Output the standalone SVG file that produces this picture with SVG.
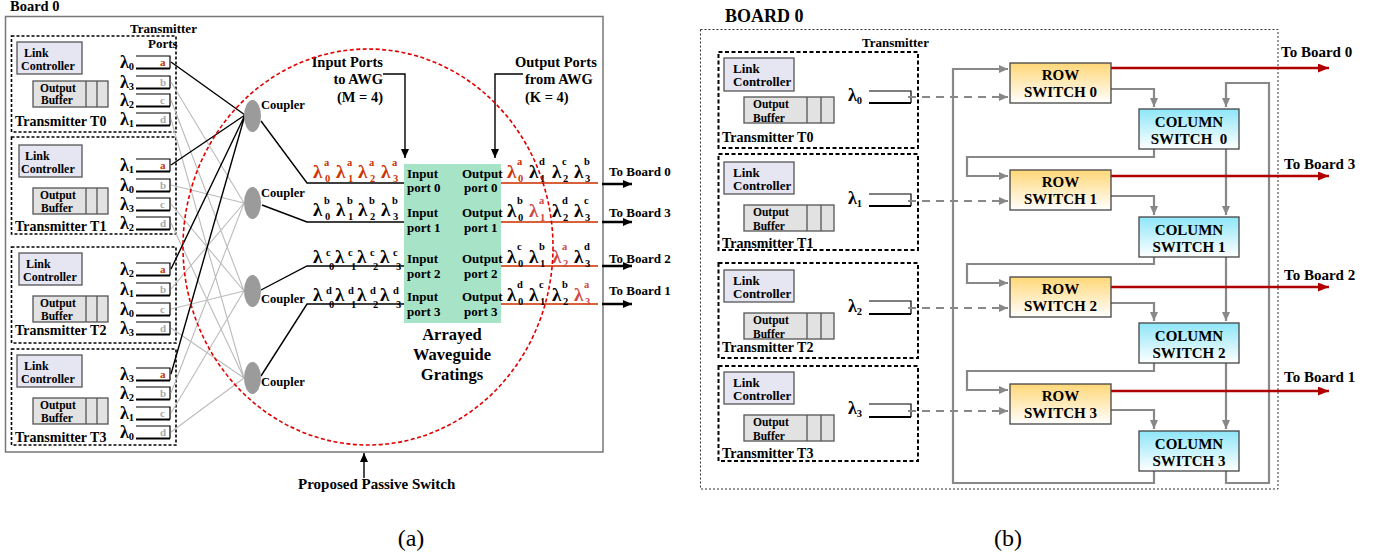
<svg xmlns="http://www.w3.org/2000/svg" width="1373" height="556" viewBox="0 0 1373 556">
<defs>
<style>
text{font-family:"Liberation Serif","Times New Roman",serif;font-weight:bold;fill:#000}
.reg{font-weight:normal}
.tx{fill:none;stroke:#000;stroke-width:1.6;stroke-dasharray:3 2}
.tx2{fill:none;stroke:#000;stroke-width:2;stroke-dasharray:4 2.5}
.lc{fill:#e6e6f3;stroke:#555;stroke-width:1.3}
.ob{fill:#e2e2e2;stroke:#555;stroke-width:1.3}
.dv{stroke:#555;stroke-width:1.3}
.t12{font-size:12px}
.t13{font-size:13px}
.t11{font-size:11.5px}
.t14{font-size:14px}
.t15{font-size:15px}
.lam{font-size:19px}
.laml{font-size:18px}
.lam2{font-size:18px}
.sub{font-size:10.5px}
.ss{font-size:10.5px}
.pl{fill:none;stroke:#000;stroke-width:1.2}
.pb{fill:none;stroke:#000;stroke-width:2.2}
.pa{font-size:11px;fill:#cc3300}
.pg{font-size:11px;fill:#aaa}
.gl{stroke:#bbb;stroke-width:1.1;fill:none}
.bl{stroke:#000;stroke-width:1.4;fill:none}
.cp{fill:#9b9b9b}
.or{fill:#cc3300}
.rd{fill:#d04848}
.ol{stroke:#d9603b;stroke-width:2;fill:none}
.ar{stroke:#000;stroke-width:2.5;fill:none;marker-end:url(#ab)}
.ak{stroke:#000;stroke-width:1.4;fill:none;marker-end:url(#ak)}
.ga{stroke:#888;stroke-width:2.2;fill:none;marker-end:url(#ag)}
.gd{stroke:#888;stroke-width:2;fill:none;stroke-dasharray:8 6;marker-end:url(#ag)}
.ra{stroke:#b00000;stroke-width:2.5;fill:none;marker-end:url(#ar)}
.rs{fill:url(#gr);stroke:#444;stroke-width:1.3}
.cs{fill:url(#gc);stroke:#444;stroke-width:1.3}
</style>
<marker id="ab" markerWidth="9" markerHeight="8" refX="9" refY="4" orient="auto" markerUnits="userSpaceOnUse"><path d="M0,0 L9,4 L0,8 z" fill="#000"/></marker>
<marker id="ak" markerWidth="9" markerHeight="8" refX="9" refY="4" orient="auto" markerUnits="userSpaceOnUse"><path d="M0,0 L9,4 L0,8 z" fill="#000"/></marker>
<marker id="ag" markerWidth="9" markerHeight="8" refX="9" refY="4" orient="auto" markerUnits="userSpaceOnUse"><path d="M0,0 L9,4 L0,8 z" fill="#888"/></marker>
<marker id="ar" markerWidth="11" markerHeight="9" refX="11" refY="4.5" orient="auto" markerUnits="userSpaceOnUse"><path d="M0,0 L11,4.5 L0,9 z" fill="#b00000"/></marker>
<linearGradient id="gr" x1="0" y1="0" x2="0" y2="1"><stop offset="0" stop-color="#ffd777"/><stop offset="1" stop-color="#ffffff"/></linearGradient>
<linearGradient id="gc" x1="0" y1="0" x2="0" y2="1"><stop offset="0" stop-color="#8de6f8"/><stop offset="1" stop-color="#ffffff"/></linearGradient>
</defs>
<rect width="1373" height="556" fill="#fff"/>

<!-- ============ (a) ============ -->
<g id="board-a">
<text x="10" y="11" style="font-size:14.5px">Board 0</text>
<rect x="5.5" y="16.5" width="597.5" height="435.5" fill="none" stroke="#777" stroke-width="1.5"/>
<text class="t13" x="130" y="33">Transmitter</text>
<text class="t13" x="148" y="48">Ports</text>
</g>

<g id="a-t0">
<rect class="tx" x="11.5" y="36" width="164.5" height="96"/>
<rect class="lc" x="17" y="42" width="65" height="32"/>
<text class="t12" x="24" y="57">Link</text>
<text class="t12" x="21" y="70">Controller</text>
<rect class="ob" x="33" y="81" width="75" height="26"/>
<path class="dv" d="M86,81V107M97,81V107"/>
<text class="t11" x="40" y="92">Output</text>
<text class="t11" x="41" y="104">Buffer</text>
<text class="t14" x="15" y="126">Transmitter T0</text>
<path class="pl" d="M136,56H170V68.5M136,76H170V88.5M136,94H170V106.5M136,113H170V125.5"/>
<path class="pb" d="M170,68.5H136M170,88.5H136M170,106.5H136M170,125.5H136"/>
<text class="laml" x="120" y="67.5">λ<tspan class="sub" dy="2.5">0</tspan></text>
<text class="laml" x="120" y="87.5">λ<tspan class="sub" dy="2.5">3</tspan></text>
<text class="laml" x="120" y="105.5">λ<tspan class="sub" dy="2.5">2</tspan></text>
<text class="laml" x="120" y="124.5">λ<tspan class="sub" dy="2.5">1</tspan></text>
<text class="pa" x="160" y="66">a</text>
<text class="pg" x="160" y="86">b</text>
<text class="pg" x="160" y="104">c</text>
<text class="pg" x="160" y="123">d</text>
</g>

<g id="a-t1">
<rect class="tx" x="11.5" y="137" width="164.5" height="97"/>
<rect class="lc" x="19" y="145" width="63" height="32"/>
<text class="t12" x="25" y="160">Link</text>
<text class="t12" x="21" y="173">Controller</text>
<rect class="ob" x="33" y="188" width="75" height="26"/>
<path class="dv" d="M86,188V214M97,188V214"/>
<text class="t11" x="40" y="199">Output</text>
<text class="t11" x="41" y="212">Buffer</text>
<text class="t14" x="15" y="231">Transmitter T1</text>
<path class="pl" d="M136,159H170V171.5M136,179H170V191.5M136,198H170V210.5M136,217H170V229.5"/>
<path class="pb" d="M170,171.5H136M170,191.5H136M170,210.5H136M170,229.5H136"/>
<text class="laml" x="120" y="170.5">λ<tspan class="sub" dy="2.5">1</tspan></text>
<text class="laml" x="120" y="190.5">λ<tspan class="sub" dy="2.5">0</tspan></text>
<text class="laml" x="120" y="209.5">λ<tspan class="sub" dy="2.5">3</tspan></text>
<text class="laml" x="120" y="228.5">λ<tspan class="sub" dy="2.5">2</tspan></text>
<text class="pa" x="160" y="169">a</text>
<text class="pg" x="160" y="189">b</text>
<text class="pg" x="160" y="208">c</text>
<text class="pg" x="160" y="227">d</text>
</g>

<g id="a-t2">
<rect class="tx" x="11.5" y="247" width="164.5" height="96"/>
<rect class="lc" x="19" y="253" width="63" height="32"/>
<text class="t12" x="26" y="268">Link</text>
<text class="t12" x="23" y="281">Controller</text>
<rect class="ob" x="33" y="296" width="75" height="26"/>
<path class="dv" d="M86,296V322M97,296V322"/>
<text class="t11" x="40" y="307">Output</text>
<text class="t11" x="41" y="320">Buffer</text>
<text class="t14" x="15" y="335">Transmitter T2</text>
<path class="pl" d="M136,263H170V275.5M136,283H170V295.5M136,303H170V315.5M136,322H170V334.5"/>
<path class="pb" d="M170,275.5H136M170,295.5H136M170,315.5H136M170,334.5H136"/>
<text class="laml" x="120" y="274.5">λ<tspan class="sub" dy="2.5">2</tspan></text>
<text class="laml" x="120" y="294.5">λ<tspan class="sub" dy="2.5">1</tspan></text>
<text class="laml" x="120" y="314.5">λ<tspan class="sub" dy="2.5">0</tspan></text>
<text class="laml" x="120" y="333.5">λ<tspan class="sub" dy="2.5">3</tspan></text>
<text class="pa" x="160" y="273">a</text>
<text class="pg" x="160" y="293">b</text>
<text class="pg" x="160" y="313">c</text>
<text class="pg" x="160" y="332">d</text>
</g>

<g id="a-t3">
<rect class="tx" x="11.5" y="349" width="164.5" height="96"/>
<rect class="lc" x="17" y="355" width="65" height="32"/>
<text class="t12" x="24" y="370">Link</text>
<text class="t12" x="21" y="383">Controller</text>
<rect class="ob" x="33" y="398" width="75" height="26"/>
<path class="dv" d="M86,398V424M97,398V424"/>
<text class="t11" x="40" y="409">Output</text>
<text class="t11" x="41" y="422">Buffer</text>
<text class="t14" x="15" y="442">Transmitter T3</text>
<path class="pl" d="M136,368H170V380.5M136,387H170V399.5M136,407H170V419.5M136,426H170V438.5"/>
<path class="pb" d="M170,380.5H136M170,399.5H136M170,419.5H136M170,438.5H136"/>
<text class="laml" x="120" y="379.5">λ<tspan class="sub" dy="2.5">3</tspan></text>
<text class="laml" x="120" y="398.5">λ<tspan class="sub" dy="2.5">2</tspan></text>
<text class="laml" x="120" y="418.5">λ<tspan class="sub" dy="2.5">1</tspan></text>
<text class="laml" x="120" y="437.5">λ<tspan class="sub" dy="2.5">0</tspan></text>
<text class="pa" x="160" y="378">a</text>
<text class="pg" x="160" y="397">b</text>
<text class="pg" x="160" y="417">c</text>
<text class="pg" x="160" y="436">d</text>
</g>

<g id="a-connectors">
<path class="gl" d="M171,82L244,203M171,100L244,291M171,119L244,378M171,185L244,203M171,204L244,291M171,223L244,378M171,289L244,203M171,309L244,291M171,328L244,378M171,393L244,203M171,413L244,291M171,432L244,378"/>
<path class="bl" d="M171,62L245,115M171,165L245,115M171,269L245,115M171,374L245,115"/>
<path class="bl" d="M261,121L307,183H404M262,205L307,222H404M261,290L307,266H404M261,376L307,304H404"/>
<path class="ol" d="M501,183H598M501,222H598M501,266H598M501,304H598"/>
<path class="ar" d="M602,184H632"/>
<path class="ar" d="M602,222H632"/>
<path class="ar" d="M602,266H632"/>
<path class="ar" d="M602,304H632"/>
<path class="ak" d="M383,74H405V158"/>
<path class="ak" d="M523,74H495V158"/>
<path class="ak" d="M364,478V453"/>
</g>

<g id="couplers">
<ellipse class="cp" cx="252.5" cy="116" rx="8.5" ry="16"/>
<ellipse class="cp" cx="252.5" cy="203" rx="8.5" ry="16"/>
<ellipse class="cp" cx="252.5" cy="291" rx="8.5" ry="16"/>
<ellipse class="cp" cx="252.5" cy="378" rx="8.5" ry="16"/>
<text x="261" y="109" style="font-size:12.5px">Coupler</text>
<text x="261" y="197" style="font-size:12.5px">Coupler</text>
<text x="261" y="303" style="font-size:12.5px">Coupler</text>
<text x="261" y="386" style="font-size:12.5px">Coupler</text>
</g>

<g id="awg">
<rect x="404" y="164" width="97" height="159" fill="#a7e3c7"/>
<text class="t13" x="407" y="178">Input</text><text class="t13" x="407" y="192">port 0</text>
<text class="t13" x="462" y="178">Output</text><text class="t13" x="464" y="192">port 0</text>
<text class="t13" x="407" y="217">Input</text><text class="t13" x="407" y="232">port 1</text>
<text class="t13" x="462" y="217">Output</text><text class="t13" x="464" y="232">port 1</text>
<text class="t13" x="407" y="263">Input</text><text class="t13" x="407" y="278">port 2</text>
<text class="t13" x="462" y="263">Output</text><text class="t13" x="464" y="278">port 2</text>
<text class="t13" x="407" y="301">Input</text><text class="t13" x="407" y="316">port 3</text>
<text class="t13" x="462" y="301">Output</text><text class="t13" x="464" y="316">port 3</text>
<text x="452" y="340" text-anchor="middle" style="font-size:16.5px">Arrayed</text>
<text x="452" y="360" text-anchor="middle" style="font-size:16.5px">Waveguide</text>
<text x="452" y="380" text-anchor="middle" style="font-size:16.5px">Gratings</text>
</g>

<g id="input-labels">
<text x="383" y="67" text-anchor="end" style="font-size:14.5px">Input Ports</text>
<text x="383" y="84" text-anchor="end" style="font-size:14.5px">to AWG</text>
<text x="383" y="102" text-anchor="end" style="font-size:14.5px">(M = 4)</text>
<text x="515" y="67" style="font-size:14.5px">Output Ports</text>
<text x="525" y="84" style="font-size:14.5px">from AWG</text>
<text x="525" y="102" style="font-size:14.5px">(K = 4)</text>
<!-- row a -->
<text class="lam or" x="313" y="178">λ</text><text class="ss or" x="324" y="166">a</text><text class="ss or" x="325" y="182">0</text>
<text class="lam or" x="336" y="178">λ</text><text class="ss or" x="347" y="166">a</text><text class="ss or" x="348" y="182">1</text>
<text class="lam or" x="358" y="178">λ</text><text class="ss or" x="369" y="166">a</text><text class="ss or" x="370" y="182">2</text>
<text class="lam or" x="381" y="178">λ</text><text class="ss or" x="392" y="166">a</text><text class="ss or" x="393" y="182">3</text>
<!-- row b -->
<text class="lam" x="313" y="216">λ</text><text class="ss" x="324" y="204">b</text><text class="ss" x="325" y="220">0</text>
<text class="lam" x="336" y="216">λ</text><text class="ss" x="347" y="204">b</text><text class="ss" x="348" y="220">1</text>
<text class="lam" x="358" y="216">λ</text><text class="ss" x="369" y="204">b</text><text class="ss" x="370" y="220">2</text>
<text class="lam" x="381" y="216">λ</text><text class="ss" x="392" y="204">b</text><text class="ss" x="393" y="220">3</text>
<!-- row c -->
<text class="lam" x="313" y="263">λ</text><text class="ss" x="326" y="256">c</text><text class="ss" x="329" y="270">0</text>
<text class="lam" x="335" y="263">λ</text><text class="ss" x="348" y="256">c</text><text class="ss" x="351" y="270">1</text>
<text class="lam" x="357" y="263">λ</text><text class="ss" x="370" y="256">c</text><text class="ss" x="373" y="270">2</text>
<text class="lam" x="380" y="263">λ</text><text class="ss" x="393" y="256">c</text><text class="ss" x="396" y="270">3</text>
<!-- row d -->
<text class="lam" x="313" y="301">λ</text><text class="ss" x="326" y="294">d</text><text class="ss" x="329" y="308">0</text>
<text class="lam" x="335" y="301">λ</text><text class="ss" x="348" y="294">d</text><text class="ss" x="351" y="308">1</text>
<text class="lam" x="357" y="301">λ</text><text class="ss" x="370" y="294">d</text><text class="ss" x="373" y="308">2</text>
<text class="lam" x="380" y="301">λ</text><text class="ss" x="393" y="294">d</text><text class="ss" x="396" y="308">3</text>
</g>

<g id="output-labels">
<text class="lam or" x="507" y="178">λ</text><text class="ss or" x="517" y="165">a</text><text class="ss or" x="518" y="182">0</text>
<text class="lam" x="529" y="178">λ</text><text class="ss" x="539" y="165">d</text><text class="ss" x="540" y="182">1</text>
<text class="lam" x="552" y="178">λ</text><text class="ss" x="562" y="165">c</text><text class="ss" x="563" y="182">2</text>
<text class="lam" x="574" y="178">λ</text><text class="ss" x="584" y="165">b</text><text class="ss" x="585" y="182">3</text>

<text class="lam" x="507" y="217">λ</text><text class="ss" x="517" y="204">b</text><text class="ss" x="518" y="221">0</text>
<text class="lam rd" x="529" y="217">λ</text><text class="ss rd" x="539" y="204">a</text><text class="ss rd" x="540" y="221">1</text>
<text class="lam" x="552" y="217">λ</text><text class="ss" x="562" y="204">d</text><text class="ss" x="563" y="221">2</text>
<text class="lam" x="574" y="217">λ</text><text class="ss" x="584" y="204">c</text><text class="ss" x="585" y="221">3</text>

<text class="lam" x="507" y="263">λ</text><text class="ss" x="517" y="250">c</text><text class="ss" x="518" y="267">0</text>
<text class="lam" x="529" y="263">λ</text><text class="ss" x="539" y="250">b</text><text class="ss" x="540" y="267">1</text>
<text class="lam rd" x="552" y="263">λ</text><text class="ss rd" x="562" y="250">a</text><text class="ss rd" x="563" y="267">2</text>
<text class="lam" x="574" y="263">λ</text><text class="ss" x="584" y="250">d</text><text class="ss" x="585" y="267">3</text>

<text class="lam" x="507" y="301">λ</text><text class="ss" x="517" y="288">d</text><text class="ss" x="518" y="305">0</text>
<text class="lam" x="529" y="301">λ</text><text class="ss" x="539" y="288">c</text><text class="ss" x="540" y="305">1</text>
<text class="lam" x="552" y="301">λ</text><text class="ss" x="562" y="288">b</text><text class="ss" x="563" y="305">2</text>
<text class="lam rd" x="574" y="301">λ</text><text class="ss rd" x="584" y="288">a</text><text class="ss rd" x="585" y="305">3</text>

<text class="t13" x="609" y="176">To Board 0</text>
<text class="t13" x="609" y="217">To Board 3</text>
<text class="t13" x="609" y="263">To Board 2</text>
<text class="t13" x="609" y="295">To Board 1</text>
</g>

<g id="passive-switch">
<ellipse cx="368" cy="247" rx="185" ry="198" fill="none" stroke="#e00000" stroke-width="1.6" stroke-dasharray="4 2.5"/>
<text x="298" y="489" style="font-size:15px">Proposed Passive Switch</text>
</g>
<text class="reg" x="411" y="546" text-anchor="middle" style="font-size:24px">(a)</text>

<!-- ============ (b) ============ -->
<g id="board-b">
<text x="725" y="22" style="font-size:18px">BOARD 0</text>
<rect x="700.5" y="29.5" width="577.5" height="459.5" fill="none" stroke="#333" stroke-width="1" stroke-dasharray="2 2"/>
<text class="t13" x="862" y="47">Transmitter</text>
</g>

<g id="b-t0">
<rect class="tx2" x="718.5" y="52" width="199.5" height="96"/>
<rect class="lc" x="724" y="58" width="70" height="33"/>
<text class="t13" x="733" y="73">Link</text>
<text class="t13" x="733" y="86">Controller</text>
<rect class="ob" x="744" y="97" width="90" height="26"/>
<path class="dv" d="M807,97V123M821,97V123"/>
<text class="t11" x="753" y="108">Output</text>
<text class="t11" x="753" y="122">Buffer</text>
<text class="t14" x="722" y="142">Transmitter T0</text>
<path class="pl" d="M869,91H911V103"/><path class="pb" d="M911,103H869"/>
<text class="lam2" x="848" y="101">λ<tspan class="sub" dy="3">0</tspan></text>
</g>

<g id="b-t1">
<rect class="tx2" x="718.5" y="154" width="199.5" height="96"/>
<rect class="lc" x="724" y="162" width="70" height="32"/>
<text class="t13" x="733" y="177">Link</text>
<text class="t13" x="733" y="190">Controller</text>
<rect class="ob" x="744" y="205" width="90" height="26"/>
<path class="dv" d="M807,205V231M821,205V231"/>
<text class="t11" x="753" y="216">Output</text>
<text class="t11" x="753" y="230">Buffer</text>
<text class="t14" x="722" y="248">Transmitter T1</text>
<path class="pl" d="M869,194H911V206"/><path class="pb" d="M911,206H869"/>
<text class="lam2" x="848" y="204">λ<tspan class="sub" dy="3">1</tspan></text>
</g>

<g id="b-t2">
<rect class="tx2" x="718.5" y="263" width="199.5" height="95"/>
<rect class="lc" x="724" y="270" width="70" height="32"/>
<text class="t13" x="733" y="285">Link</text>
<text class="t13" x="733" y="298">Controller</text>
<rect class="ob" x="744" y="313" width="90" height="26"/>
<path class="dv" d="M807,313V339M821,313V339"/>
<text class="t11" x="753" y="324">Output</text>
<text class="t11" x="753" y="338">Buffer</text>
<text class="t14" x="722" y="352">Transmitter T2</text>
<path class="pl" d="M869,301H911V314"/><path class="pb" d="M911,314H869"/>
<text class="lam2" x="848" y="312">λ<tspan class="sub" dy="3">2</tspan></text>
</g>

<g id="b-t3">
<rect class="tx2" x="718.5" y="366" width="199.5" height="95"/>
<rect class="lc" x="724" y="372" width="70" height="32"/>
<text class="t13" x="733" y="387">Link</text>
<text class="t13" x="733" y="400">Controller</text>
<rect class="ob" x="744" y="415" width="90" height="26"/>
<path class="dv" d="M807,415V441M821,415V441"/>
<text class="t11" x="753" y="426">Output</text>
<text class="t11" x="753" y="440">Buffer</text>
<text class="t14" x="722" y="458">Transmitter T3</text>
<path class="pl" d="M869,404H911V417"/><path class="pb" d="M911,417H869"/>
<text class="lam2" x="848" y="414">λ<tspan class="sub" dy="3">3</tspan></text>
</g>

<g id="b-connectors">
<path class="gd" d="M908,97H1008"/>
<path class="gd" d="M908,201H1008"/>
<path class="gd" d="M908,308H1008"/>
<path class="gd" d="M908,411H1008"/>
<path class="ga" d="M1111,89H1154V107"/>
<path class="ga" d="M1111,196H1154V215"/>
<path class="ga" d="M1111,303H1154V321"/>
<path class="ga" d="M1111,410H1154V429"/>
<path class="ga" d="M1154,149V157H967V176H1008"/>
<path class="ga" d="M1154,257V264H967V283H1008"/>
<path class="ga" d="M1154,363V371H967V390H1008"/>
<path class="ga" d="M1154,471V483H953V69H1008"/>
<path class="ga" d="M1226,149V215"/>
<path class="ga" d="M1226,257V321"/>
<path class="ga" d="M1226,363V429"/>
<path class="ga" d="M1226,471V483H1269V83H1226V107"/>
<path class="ra" d="M1111,68H1329"/>
<path class="ra" d="M1111,176H1329"/>
<path class="ra" d="M1111,287H1329"/>
<path class="ra" d="M1111,391H1329"/>
<text class="t15" x="1281" y="57">To Board 0</text>
<text class="t15" x="1284" y="169">To Board 3</text>
<text class="t15" x="1284" y="280">To Board 2</text>
<text class="t15" x="1284" y="382">To Board 1</text>
</g>

<g id="row-switch-0"><rect class="rs" x="1010" y="63" width="101" height="40"/><text class="t15" x="1060.5" y="80" text-anchor="middle">ROW</text><text class="t15" x="1060.5" y="97" text-anchor="middle">SWITCH 0</text></g>
<g id="row-switch-1"><rect class="rs" x="1010" y="170" width="101" height="40"/><text class="t15" x="1060.5" y="187" text-anchor="middle">ROW</text><text class="t15" x="1060.5" y="204" text-anchor="middle">SWITCH 1</text></g>
<g id="row-switch-2"><rect class="rs" x="1010" y="277" width="101" height="40"/><text class="t15" x="1060.5" y="294" text-anchor="middle">ROW</text><text class="t15" x="1060.5" y="311" text-anchor="middle">SWITCH 2</text></g>
<g id="row-switch-3"><rect class="rs" x="1010" y="384" width="101" height="40"/><text class="t15" x="1060.5" y="401" text-anchor="middle">ROW</text><text class="t15" x="1060.5" y="418" text-anchor="middle">SWITCH 3</text></g>
<g id="col-switch-0"><rect class="cs" x="1139" y="109" width="100" height="40"/><text class="t15" x="1189" y="127" text-anchor="middle">COLUMN</text><text class="t15" x="1189" y="144" text-anchor="middle" style="white-space:pre">SWITCH  0</text></g>
<g id="col-switch-1"><rect class="cs" x="1139" y="217" width="100" height="40"/><text class="t15" x="1189" y="235" text-anchor="middle">COLUMN</text><text class="t15" x="1189" y="252" text-anchor="middle">SWITCH 1</text></g>
<g id="col-switch-2"><rect class="cs" x="1139" y="323" width="100" height="40"/><text class="t15" x="1189" y="341" text-anchor="middle">COLUMN</text><text class="t15" x="1189" y="358" text-anchor="middle">SWITCH 2</text></g>
<g id="col-switch-3"><rect class="cs" x="1139" y="431" width="100" height="40"/><text class="t15" x="1189" y="449" text-anchor="middle">COLUMN</text><text class="t15" x="1189" y="466" text-anchor="middle">SWITCH 3</text></g>

<text class="reg" x="1008" y="546" text-anchor="middle" style="font-size:24px">(b)</text>
</svg>
